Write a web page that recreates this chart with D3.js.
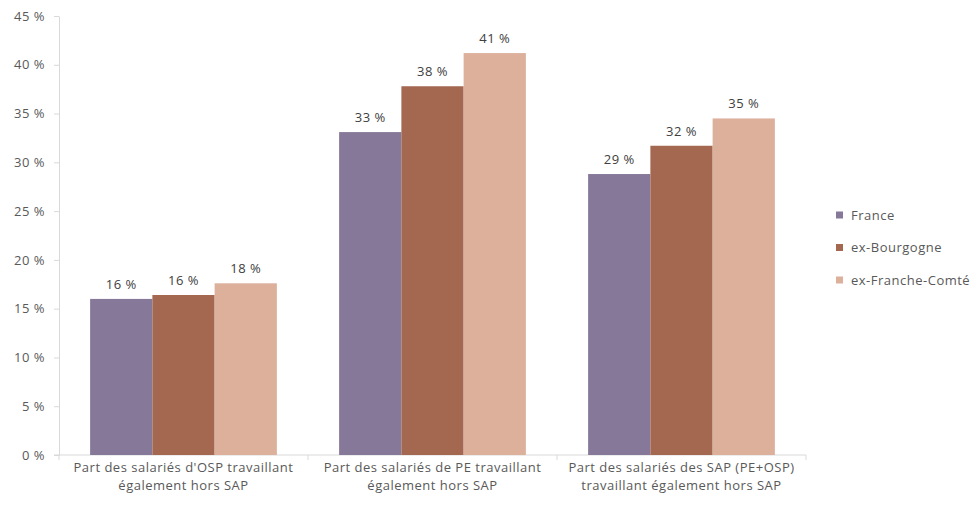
<!DOCTYPE html>
<html>
<head>
<meta charset="utf-8">
<script src="https://cdn.jsdelivr.net/npm/d3@7"></script>
<style>
  body { margin: 0; background: #fff; }
  svg text { font-family: "Open Sans", "Liberation Sans", sans-serif; font-size: 13px; letter-spacing: 0.5px; }
</style>
</head>
<body>
<div id="chart"></div>
<script>
// chart data
let categories = [
    ["Part des salariés d'OSP travaillant", "également hors SAP"],
    ["Part des salariés de PE travaillant", "également hors SAP"],
    ["Part des salariés des SAP (PE+OSP)", "travaillant également hors SAP"]
];
let seriesNames = ["France", "ex-Bourgogne", "ex-Franche-Comté"];
let france = [16.0, 33.1, 28.8];
let bourgogne = [16.4, 37.8, 31.7];
let francheComte = [17.6, 41.2, 34.5];
let yTicks = [0, 5, 10, 15, 20, 25, 30, 35, 40, 45];
let colors = ["#857898", "#a46851", "#ddb09c"];

let series = [france, bourgogne, francheComte];

let width = 979, height = 507;
let margin = { top: 16, left: 59, right: 173, bottom: 52 };

let svg = d3.select('#chart').append('svg')
    .attr('width', width)
    .attr('height', height);

let x = d3.scaleBand()
    .domain(d3.range(categories.length))
    .range([margin.left, width - margin.right]);

let inner = d3.scaleBand()
    .domain(d3.range(series.length))
    .range([0, x.bandwidth()])
    .paddingOuter(0.5)
    .paddingInner(0);

let y = d3.scaleLinear()
    .domain([0, 45])
    .range([height - margin.bottom, margin.top]);

// y axis
let yAxis = svg.append('g')
    .attr('transform', `translate(${margin.left},0)`)
    .call(d3.axisLeft(y).tickValues(yTicks).tickSize(5).tickSizeOuter(0).tickPadding(9)
        .tickFormat(d => d + ' %'));
yAxis.selectAll('line, path').attr('stroke', '#d9d9d9');
yAxis.selectAll('text')
    .style('font-size', '13px')
    .attr('fill', '#595959');

// x axis
let xAxis = svg.append('g')
    .attr('transform', `translate(0,${y(0)})`);
xAxis.append('line')
    .attr('x1', margin.left - 5).attr('x2', width - margin.right)
    .attr('stroke', '#d9d9d9');
xAxis.selectAll('line.sep')
    .data(d3.range(categories.length + 1))
    .enter().append('line')
    .attr('class', 'sep')
    .attr('x1', i => margin.left + i * x.bandwidth())
    .attr('x2', i => margin.left + i * x.bandwidth())
    .attr('y2', 5)
    .attr('stroke', '#d9d9d9');

let labels = xAxis.selectAll('text.cat')
    .data(categories)
    .enter().append('text')
    .attr('class', 'cat')
    .attr('text-anchor', 'middle')
    .attr('fill', '#595959')
    .attr('x', (d, i) => x(i) + x.bandwidth() / 2);
labels.selectAll('tspan')
    .data(d => d)
    .enter().append('tspan')
    .attr('x', function () { return d3.select(this.parentNode).attr('x'); })
    .attr('y', (d, i) => 17 + i * 18)
    .text(d => d);

// bars
series.forEach((values, s) => {
    let g = svg.append('g');
    g.selectAll('rect')
        .data(values)
        .enter().append('rect')
        .attr('x', (d, i) => x(i) + inner(s))
        .attr('y', d => y(d))
        .attr('width', inner.bandwidth())
        .attr('height', d => y(0) - y(d))
        .attr('fill', colors[s]);
    g.selectAll('text')
        .data(values)
        .enter().append('text')
        .attr('x', (d, i) => x(i) + inner(s) + inner.bandwidth() / 2)
        .attr('y', d => y(d) - 10)
        .attr('text-anchor', 'middle')
        .attr('fill', '#404040')
        .text(d => Math.round(d) + ' %');
});

// legend
let legend = svg.append('g')
    .attr('transform', 'translate(836,215)');
seriesNames.forEach((name, i) => {
    let row = legend.append('g').attr('transform', `translate(0,${i * 32.5})`);
    row.append('rect')
        .attr('y', -3.5)
        .attr('width', 7)
        .attr('height', 7)
        .attr('fill', colors[i]);
    row.append('text')
        .attr('x', 15)
        .attr('dy', '0.35em')
        .attr('fill', '#595959')
        .text(name);
});
</script>
</body>
</html>
